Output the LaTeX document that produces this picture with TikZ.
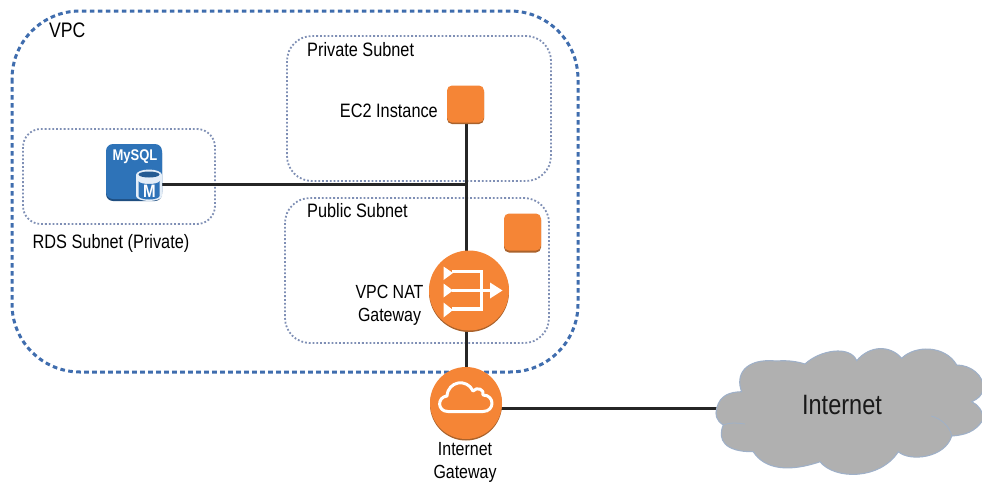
\documentclass[tikz,border=0pt]{standalone}
\usepackage{fontspec}
\setmainfont[FakeStretch=0.84]{Liberation Sans}
\definecolor{vpcblue}{HTML}{3F6DAE}
\definecolor{subblue}{HTML}{7F8FB5}
\definecolor{awsorange}{HTML}{F58536}
\definecolor{awsdark}{HTML}{A9622C}
\definecolor{dbblue}{HTML}{2E73B8}
\definecolor{dbdark}{HTML}{1F4E80}
\definecolor{dbedge}{HTML}{E4EEF8}
\definecolor{cloudgray}{HTML}{B0B0B0}
\definecolor{cloudline}{HTML}{9FB0C8}
\tikzset{
  vpcbox/.style={draw=vpcblue,line width=3pt,dash pattern=on 4.6pt off 3.4pt,rounded corners=68pt},
  subnetbox/.style={draw=subblue,line width=1.8pt,dash pattern=on 1.8pt off 2pt,rounded corners=25pt},
  link/.style={draw=black!85,line width=3pt},
  lbl/.style={font=\fontsize{19.4}{22}\selectfont,text=black,inner sep=0pt},
  twoline/.style={lbl,align=center,font=\fontsize{19}{23}\selectfont},
  square/.style={rectangle,fill=awsorange,rounded corners=5pt,minimum width=37pt,minimum height=37pt,inner sep=0pt},
  shadowsq/.style={fill=awsdark,rounded corners=5pt},
  disc/.style={circle,fill=awsorange,inner sep=0pt},
  glyph/.style={draw=white,line width=3.5pt},
}
\begin{document}
\begin{tikzpicture}[x=1pt,y=-1pt]
\useasboundingbox (0,0) rectangle (982,482);
\fill[white] (0,0) rectangle (982,482);
% boxes
\draw[vpcbox] (12,11) rectangle (578,372);
\draw[subnetbox] (287,36) rectangle (551,181);
\draw[subnetbox] (285,198) rectangle (549,343);
\draw[subnetbox,rounded corners=18pt] (23,129) rectangle (215,224);
% anchors
\coordinate (mysqlport) at (160,184);
\coordinate (junction) at (466,184);
\coordinate (natS) at (466,330);
\coordinate (igwN) at (466,370);
\coordinate (igwE) at (500,408);
\coordinate (natN) at (466,255);
\coordinate (ec2S) at (466,120);
\coordinate (cloudW) at (718,408);
% connectors
\draw[link] (ec2S) -- (natN);
\draw[link] (mysqlport) -- (junction);
\draw[link] (natS) -- (igwN);
\draw[link] (igwE) -- (cloudW);
% EC2 squares
\fill[shadowsq] (447,87) rectangle (484,124);
\node[square] (ec2) at (465.5,104) {};
\fill[shadowsq] (504,215) rectangle (541,252.5);
\node[square] (pubinst) at (522.5,232) {};
% NAT
\fill[awsdark] (469,292) circle[radius=40];
\node[disc,minimum size=80pt] (nat) at (469,290.5) {};
\fill[white] (443.5,266.5) -- (453,273) -- (443.5,280) -- cycle;
\fill[white] (443.5,283.5) -- (453,290.5) -- (443.5,297.5) -- cycle;
\fill[white] (443.5,302.5) -- (453,310) -- (443.5,317.5) -- cycle;
\draw[glyph] (452,271.7) -- (481.5,271.7) -- (481.5,309) -- (452,309);
\draw[glyph] (452,290.5) -- (493,290.5);
\fill[white] (490,282.5) -- (502.5,290.5) -- (490,298.5) -- cycle;
% IGW
\fill[awsdark] (466,404.5) circle[radius=36];
\node[disc,minimum size=72pt] (igw) at (466,403) {};
\draw[draw=white,line width=3pt,line join=round]
  (448,411.5) .. controls (437,411.5) and (437,397) .. (447,396)
  .. controls (448,381) and (467,378) .. (473,391)
  .. controls (477,386) and (485,390) .. (483,395)
  .. controls (495,395) and (495,411.5) .. (483,411.5) -- cycle;
% MySQL
\fill[dbdark] (106,146) [rounded corners=7pt] rectangle (162,201);
\fill[dbblue] (106,144) [rounded corners=7pt] rectangle (162,199);
\node[font=\fontsize{15.5}{17}\selectfont\bfseries,text=white,inner sep=0pt] (mysqltxt) at (135,157) {MySQL};
\fill[dbedge] (136,175) -- (136,196) arc[start angle=180,end angle=0,x radius=13,y radius=5] -- (162,175) arc[start angle=0,end angle=-180,x radius=13,y radius=5.5] -- cycle;
\fill[dbblue!80!black] (149,174.5) ellipse[x radius=10.5,y radius=3];
\fill[dbblue] (138.5,181) -- (138.5,196) arc[start angle=180,end angle=0,x radius=10.5,y radius=3.5] -- (159.5,181) arc[start angle=0,end angle=180,x radius=10.5,y radius=3] -- cycle;
\node[font=\fontsize{18}{18}\selectfont\bfseries,text=white,inner sep=0pt] (mtxt) at (149.5,191) {M};
% cloud
\begin{scope}
\clip (0,0) rectangle (982,482);
\draw[fill=cloudgray,draw=cloudline,line width=1.1pt]
  (716.7,408.3) .. controls (720,395) and (730,392) .. (741.7,391.7)
  .. controls (735,375) and (745,358) .. (776,361) .. controls (790,360) and (798,362) .. (805,364)
  .. controls (820,350) and (850,345) .. (856.7,360.7)
  .. controls (870,345) and (890,345) .. (901.7,358.3)
  .. controls (915,345) and (945,345) .. (956.7,365)
  .. controls (970,365) and (985,375) .. (983,390)
  .. controls (982,395) and (978,399) .. (971.7,401.7)
  .. controls (978,405) and (983,410) .. (983,420)
  .. controls (975,432) and (965,435) .. (951.7,436)
  .. controls (945,458) and (910,462) .. (898.3,451.7)
  .. controls (880,480) and (835,480) .. (820,461.7)
  .. controls (790,472) and (765,470) .. (753.3,451.7)
  .. controls (725,452) and (717,440) .. (723.3,425)
  .. controls (716,420) and (715,415) .. (716.7,408.3) -- cycle;
\draw[draw=cloudline,line width=0.8pt] (723.3,425) .. controls (730,422) and (738,423) .. (745,424);
\draw[draw=cloudline,line width=0.8pt] (931,416) .. controls (940,418) and (950,426) .. (951.7,436);
\end{scope}
\node[font=\fontsize{28}{30}\selectfont,inner sep=0pt,text=black!90] (cloud) at (842,405) {Internet};
% labels
\node[font=\fontsize{21}{24}\selectfont,inner sep=0pt,anchor=west] (vpclbl) at (49,30) {VPC};
\node[lbl,anchor=west] (privlbl) at (307,50) {Private Subnet};
\node[lbl,anchor=west] (publbl) at (307,210.5) {Public Subnet};
\node[lbl] (rdslbl) at (111,243) {RDS Subnet (Private)};
\node[lbl,anchor=east] (ec2lbl) at (438,111) {EC2 Instance};
\node[twoline] (natlbl) at (389.5,305) {VPC NAT\\Gateway};
\node[twoline] (igwlbl) at (465,462.5) {Internet\\Gateway};
\end{tikzpicture}
\end{document}
